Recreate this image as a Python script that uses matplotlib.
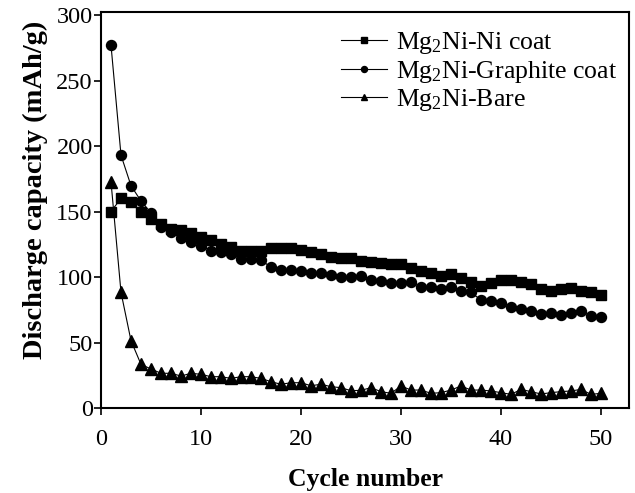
import matplotlib
matplotlib.use("Agg")
import matplotlib.pyplot as plt

plt.rcParams['font.family'] = ['Liberation Serif', 'DejaVu Serif']
plt.rcParams['mathtext.fontset'] = 'custom'
plt.rcParams['mathtext.rm'] = 'Liberation Serif'
plt.rcParams['mathtext.it'] = 'Liberation Serif:italic'
plt.rcParams['mathtext.bf'] = 'Liberation Serif:bold'

cycles = list(range(1, 51))

ni_coat = [150, 160, 157, 150, 144, 140.5, 137, 136, 133.4, 130.3,
           128, 125, 123, 120, 120, 120, 122, 122, 122, 120.6,
           119.3, 117.6, 115.5, 114.7, 114.3, 112.4, 111.7, 110.4, 109.7, 109.7,
           107.1, 104.6, 102.8, 100.5, 102, 99.5, 96.4, 93.1, 95.7, 97.7,
           97.7, 96.4, 94.4, 90.8, 89.3, 90.6, 91.4, 89.3, 88.3, 86.3]

graphite_coat = [277, 193, 169.7, 158, 149, 138.4, 134.6, 129.5, 127, 123.9,
                 120, 119.3, 117.6, 113.7, 113.7, 113, 107.4, 105.3, 105.3, 104.8,
                 102.8, 102.8, 101.5, 100.2, 99.8, 101, 97.7, 96.9, 95.6, 95.2,
                 96.4, 92.1, 92.1, 90.6, 92.1, 89.5, 88.3, 82.4, 81.7, 80.4,
                 77.3, 75.3, 74, 71.8, 72.8, 71, 72.8, 74, 70.2, 69.2]

bare = [172.7, 88.3, 51.4, 33.3, 29.8, 26.5, 26.5, 24.4, 26.5, 25.7,
        23.9, 23.9, 22.6, 23.9, 23.9, 22.6, 20.1, 18.1, 19.3, 19.3,
        17, 18.1, 16.3, 15.5, 13.2, 13.5, 15.5, 12.5, 11.2, 16.8,
        13.7, 13.7, 11.2, 11.7, 13.7, 16.8, 13.7, 13.7, 13, 11.7,
        10.4, 14.2, 12.5, 10.7, 11.7, 12.5, 13, 14.2, 10.4, 11.2]

labels = ['Mg$_2$Ni-Ni coat', 'Mg$_2$Ni-Graphite coat', 'Mg$_2$Ni-Bare']
xticks = [0, 10, 20, 30, 40, 50]
yticks = [0, 50, 100, 150, 200, 250, 300]

fig = plt.figure(figsize=(6.35, 4.93), dpi=100)
ax = fig.add_axes([101/635, 1-408/493, (629-101)/635, (408-12)/493])

ax.plot(cycles, ni_coat, '-s', color='black', lw=0.8, ms=7, label=labels[0])
ax.plot(cycles, graphite_coat, '-o', color='black', lw=0.8, ms=7.2, label=labels[1])
ax.plot(cycles, bare, '-^', color='black', lw=0.8, ms=8, label=labels[2])

ax.set_xlim(0, 52.8)
ax.set_ylim(0, 302.3)
ax.set_xticks(xticks)
ax.set_yticks(yticks)
ax.tick_params(axis='both', direction='out', length=5, width=1.2, labelsize=17.5,
               top=False, right=False)
ax.tick_params(axis='x', pad=10)
ax.tick_params(axis='y', pad=1)
for s in ax.spines.values():
    s.set_linewidth(1.5)

ax.set_xlabel('Cycle number', fontsize=18.5, fontweight='bold', labelpad=13)
ax.set_ylabel('Discharge capacity (mAh/g)', fontsize=20.5, fontweight='bold')
ax.yaxis.set_label_coords(-0.100, 0.55)

leg = ax.legend(loc='upper left', bbox_to_anchor=(341/635, 1-30/493),
                bbox_transform=fig.transFigure, frameon=False, fontsize=18.5,
                markerscale=0.6, handlelength=1.8, handletextpad=0.35,
                borderpad=0, borderaxespad=0, labelspacing=0.1)

fig.savefig('out.png', dpi=100)
